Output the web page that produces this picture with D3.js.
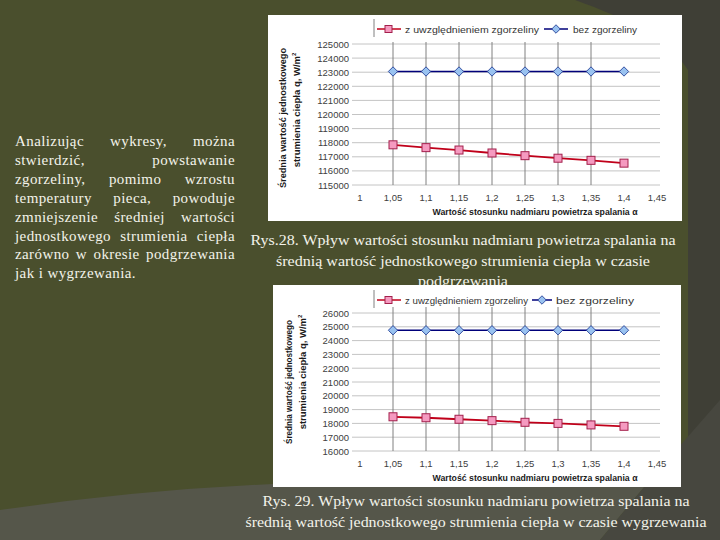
<!DOCTYPE html>
<html>
<head>
<meta charset="utf-8">
<script src="https://cdn.jsdelivr.net/npm/d3@7"></script>
<style>
  body { margin: 0; background: #4a4f2d; }
  svg { display: block; }
</style>
</head>
<body>
<svg id="slide" width="720" height="540"></svg>
<script>
// values
var alpha = [1.05, 1.1, 1.15, 1.2, 1.25, 1.3, 1.35, 1.4];
var xTicks = [1, 1.05, 1.1, 1.15, 1.2, 1.25, 1.3, 1.35, 1.4, 1.45];
var dropLines = [1.05, 1.1, 1.15, 1.2, 1.25, 1.3, 1.35];

// Rys. 28 - podgrzewanie
var heatWithScale = [117850, 117650, 117480, 117270, 117080, 116900, 116750, 116550];
var heatNoScale = [123050, 123050, 123050, 123050, 123050, 123050, 123050, 123050];
var heatTicks = [115000, 116000, 117000, 118000, 119000, 120000, 121000, 122000, 123000, 124000, 125000];

// Rys. 29 - wygrzewanie
var soakWithScale = [18480, 18410, 18300, 18200, 18080, 18000, 17890, 17790];
var soakNoScale = [24750, 24750, 24750, 24750, 24750, 24750, 24750, 24750];
var soakTicks = [16000, 17000, 18000, 19000, 20000, 21000, 22000, 23000, 24000, 25000, 26000];

var seriesNames = ["z uwzględnieniem zgorzeliny", "bez zgorzeliny"];

var paragraph = [
  "Analizując wykresy, można",
  "stwierdzić, powstawanie",
  "zgorzeliny, pomimo wzrostu",
  "temperatury pieca, powoduje",
  "zmniejszenie średniej wartości",
  "jednostkowego strumienia ciepła",
  "zarówno w okresie podgrzewania",
  "jak i wygrzewania."
];
var caption28 = [
  "Rys.28. Wpływ wartości stosunku nadmiaru powietrza spalania na",
  "średnią wartość jednostkowego strumienia ciepła w czasie",
  "podgrzewania"
];
var caption29 = [
  "Rys. 29. Wpływ wartości stosunku nadmiaru powietrza spalania na",
  "średnią wartość jednostkowego strumienia ciepła w czasie wygrzewania"
];

var svg = d3.select("#slide");
var serif = "'Liberation Serif', 'DejaVu Serif', serif";
var sans = "'Liberation Sans', Arial, sans-serif";

// background shapes of the slide template
svg.append("rect").attr("width", 720).attr("height", 540).attr("fill", "#4a4f2d");
svg.append("path")
   .attr("d", "M575,0 C625,18 668,38 688,70 L688,540 L720,540 L720,0 Z")
   .attr("fill", "#3f3f36");
svg.append("path")
   .attr("d", "M0,510 Q150,488 300,483 L650,480 L600,540 L0,540 Z")
   .attr("fill", "#55564a");
svg.append("path")
   .attr("d", "M650,480 L720,400 L720,540 L600,540 Z")
   .attr("fill", "#47473f");

// left paragraph, justified by hand
var para = svg.append("g")
              .attr("font-family", serif)
              .attr("font-size", 15)
              .attr("letter-spacing", 0.4)
              .attr("fill", "#f3f3ea");
var paraLeft = 15, paraWidth = 220;
paragraph.forEach(function(line, i) {
    var y = 146 + i * 18.9;
    var words = line.split(" ");
    var t = para.append("text").attr("y", y);
    if (i === paragraph.length - 1) {
        t.attr("x", paraLeft).text(line);
        return;
    }
    var spans = words.map(function(w) { return t.append("tspan").text(w); });
    var widths = spans.map(function(s) { return s.node().getComputedTextLength(); });
    var gap = (paraWidth - d3.sum(widths)) / (words.length - 1);
    var x = paraLeft;
    spans.forEach(function(s, k) {
        s.attr("x", x);
        x += widths[k] + gap;
    });
});

function caption(lines, cx, y0, lengths) {
    var g = svg.append("g")
               .attr("font-family", serif)
               .attr("font-size", 15)
               .attr("fill", "#f3f3ea")
               .attr("text-anchor", "middle");
    lines.forEach(function(line, i) {
        g.append("text")
         .attr("x", cx)
         .attr("y", y0 + i * 20.5)
         .attr("textLength", lengths[i])
         .attr("lengthAdjust", "spacingAndGlyphs")
         .text(line);
    });
}

function drawChart(o) {
    var g = svg.append("g");
    g.append("rect")
     .attr("x", o.box[0]).attr("y", o.box[1])
     .attr("width", o.box[2] - o.box[0]).attr("height", o.box[3] - o.box[1])
     .attr("fill", "#ffffff");

    var x = d3.scaleLinear().domain([1, 1.45]).range([360, 657]);
    var y = d3.scaleLinear().domain(d3.extent(o.ticks)).range([o.bottom, o.top]);

    // horizontal gridlines
    g.selectAll(".hgrid")
     .data(o.ticks)
     .enter().append("line")
     .attr("x1", x(1) - 8).attr("x2", x(1.45) + 3)
     .attr("y1", function(d) { return y(d); })
     .attr("y2", function(d) { return y(d); })
     .attr("stroke", "#c4c4c4");

    // vertical lines at the measured points
    g.selectAll(".vgrid")
     .data(dropLines)
     .enter().append("line")
     .attr("x1", function(d) { return x(d); })
     .attr("x2", function(d) { return x(d); })
     .attr("y1", o.top - o.over).attr("y2", o.bottom)
     .attr("stroke", "#808080");

    // y tick labels
    g.selectAll(".ylab")
     .data(o.ticks)
     .enter().append("text")
     .attr("x", 349)
     .attr("y", function(d) { return y(d) + 3.5; })
     .attr("text-anchor", "end")
     .attr("font-family", sans)
     .attr("font-size", 9.5)
     .attr("fill", "#404040")
     .text(d3.format("d"));

    // x tick labels
    g.selectAll(".xlab")
     .data(xTicks)
     .enter().append("text")
     .attr("x", function(d) { return x(d); })
     .attr("y", o.bottom + 16)
     .attr("text-anchor", "middle")
     .attr("font-family", sans)
     .attr("font-size", 9.5)
     .attr("fill", "#404040")
     .text(function(d) { return String(d).replace(".", ","); });

    g.append("text")
     .attr("x", 535)
     .attr("y", o.bottom + 30)
     .attr("text-anchor", "middle")
     .attr("font-family", sans)
     .attr("font-size", 9)
     .attr("font-weight", "bold")
     .attr("fill", "#1a1a1a")
     .attr("textLength", 205)
     .attr("lengthAdjust", "spacingAndGlyphs")
     .text("Wartość stosunku nadmiaru powietrza spalania α");

    // y axis title, two rotated lines
    var yt = g.append("g")
              .attr("font-family", sans)
              .attr("font-size", 9.5)
              .attr("font-weight", "bold")
              .attr("fill", "#1a1a1a")
              .attr("text-anchor", "middle");
    yt.append("text")
      .attr("transform", "translate(" + o.title1[0] + "," + o.title1[1] + ") rotate(-90)")
      .attr("textLength", o.title1[2])
      .attr("lengthAdjust", "spacingAndGlyphs")
      .text("Średnia wartość jednostkowego");
    var t2 = yt.append("text")
      .attr("transform", "translate(" + o.title2[0] + "," + o.title2[1] + ") rotate(-90)");
    t2.append("tspan").text("strumienia ciepła q, W/m");
    t2.append("tspan").attr("dy", -4).attr("font-size", 6).text("2");

    var line = d3.line()
                 .x(function(d, i) { return x(alpha[i]); })
                 .y(function(d) { return y(d); });

    g.append("path")
     .datum(o.noScale)
     .attr("fill", "none")
     .attr("stroke", "#00007a")
     .attr("stroke-width", 1.5)
     .attr("d", line);
    g.append("path")
     .datum(o.withScale)
     .attr("fill", "none")
     .attr("stroke", "#c0001a")
     .attr("stroke-width", 1.8)
     .attr("d", line);

    g.selectAll(".dia")
     .data(o.noScale)
     .enter().append("rect")
     .attr("x", -3.3).attr("y", -3.3).attr("width", 6.6).attr("height", 6.6)
     .attr("transform", function(d, i) { return "translate(" + x(alpha[i]) + "," + y(d) + ") rotate(45)"; })
     .attr("fill", "#99c2f0")
     .attr("stroke", "#1f3a93")
     .attr("stroke-width", 0.8);

    g.selectAll(".sq")
     .data(o.withScale)
     .enter().append("rect")
     .attr("x", function(d, i) { return x(alpha[i]) - 4; })
     .attr("y", function(d) { return y(d) - 4; })
     .attr("width", 8).attr("height", 8)
     .attr("fill", "#f59ac0")
     .attr("stroke", "#a3204c")
     .attr("stroke-width", 1);

    // legend
    var lg = g.append("g").attr("transform", "translate(0," + o.legendY + ")");
    lg.append("line").attr("x1", 374).attr("x2", 374).attr("y1", -10).attr("y2", 8)
      .attr("stroke", "#808080");
    lg.append("line").attr("x1", 377).attr("x2", 401).attr("stroke", "#c0001a").attr("stroke-width", 1.5);
    lg.append("rect").attr("x", 385).attr("y", -3.5).attr("width", 7).attr("height", 7)
      .attr("fill", "#f59ac0").attr("stroke", "#a3204c");
    lg.append("line").attr("x1", o.leg[0]).attr("x2", o.leg[1]).attr("stroke", "#00007a").attr("stroke-width", 1.5);
    lg.append("rect").attr("x", -3).attr("y", -3).attr("width", 6).attr("height", 6)
      .attr("transform", "translate(" + (o.leg[0] + o.leg[1]) / 2 + ",0) rotate(45)")
      .attr("fill", "#99c2f0").attr("stroke", "#1f3a93").attr("stroke-width", 0.8);
    lg.selectAll(".lt")
      .data(seriesNames)
      .enter().append("text")
      .attr("x", function(d, i) { return i === 0 ? 405 : o.leg[2]; })
      .attr("y", 3.5)
      .attr("font-family", sans)
      .attr("font-size", 9.5)
      .attr("fill", "#333333")
      .attr("textLength", function(d, i) { return i === 0 ? o.leg[3] : o.leg[4]; })
      .attr("lengthAdjust", "spacingAndGlyphs")
      .text(function(d) { return d; });
}

drawChart({
    box: [268, 15, 682, 221],
    top: 44, bottom: 185, over: 2,
    ticks: heatTicks,
    withScale: heatWithScale, noScale: heatNoScale,
    title1: [286, 118, 140], title2: [300, 110],
    legendY: 29,
    leg: [544, 568, 573, 134, 64]
});

caption(caption28, 463, 245, [425, 374, 90]);

drawChart({
    box: [273, 285, 681, 487],
    top: 313, bottom: 451, over: 6,
    ticks: soakTicks,
    withScale: soakWithScale, noScale: soakNoScale,
    title1: [292, 382, 124], title2: [306, 372],
    legendY: 300,
    leg: [532, 552, 556, 123, 78]
});

caption(caption29, 476, 506, [427, 461]);
</script>
</body>
</html>
